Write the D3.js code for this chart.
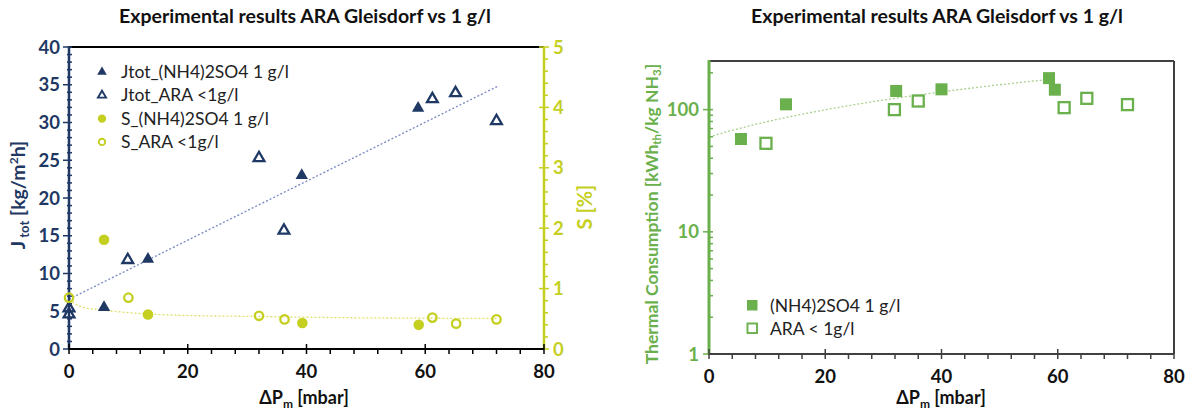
<!DOCTYPE html>
<html>
<head>
<meta charset="utf-8">
<script src="https://cdn.jsdelivr.net/npm/d3@7"></script>
<style>
  html, body { margin: 0; padding: 0; background: #fff; }
  svg { display: block; font-family: Lato, "Open Sans", sans-serif; }
</style>
</head>
<body>
<svg id="chart" width="1186" height="412"></svg>
<script>
// values
const xTicks = [0, 20, 40, 60, 80];
const jTicks = [0, 5, 10, 15, 20, 25, 30, 35, 40];
const sTicks = [0, 1, 2, 3, 4, 5];
const thermTicks = [1, 10, 100];

const jtotSulfX = [5.9, 13.3, 39.2, 58.8];
const jtotSulfY = [5.5, 11.9, 23.0, 31.9];
const jtotAraX = [0, 0, 9.9, 32.0, 36.2, 61.2, 65.1, 72.0];
const jtotAraY = [5.4, 4.6, 11.8, 25.3, 15.7, 33.1, 33.9, 30.2];

const sSulfX = [5.9, 13.3, 39.3, 58.9];
const sSulfY = [1.81, 0.57, 0.43, 0.40];
const sAraX = [0, 10.0, 32.0, 36.3, 61.2, 65.2, 72.0];
const sAraY = [0.85, 0.85, 0.55, 0.49, 0.52, 0.42, 0.49];

const jTrendX = [0, 72.2];
const jTrendY = [6.6, 34.8];
const sTrendX = [0, 2, 5, 8, 13, 20, 30, 45, 60, 72];
const sTrendY = [0.82, 0.70, 0.65, 0.62, 0.58, 0.555, 0.54, 0.52, 0.51, 0.505];

const thSulfX = [5.5, 13.25, 32.2, 40.0, 58.5, 59.5];
const thSulfY = [57.5, 110.5, 142, 146.6, 181, 145.6];
const thAraX = [9.8, 31.9, 36.0, 61.1, 65.0, 72.0];
const thAraY = [53, 100, 117.6, 103.8, 123.7, 109.9];
const thTrendX = [0, 58.5];
const thTrendY = [59.7, 176.7];

const navy = '#1f3864', lime = '#c4cf1f', green = '#6ab04c', gray = '#404040';

const svg = d3.select('#chart');
const zip = (xs, ys) => xs.map((x, i) => [x, ys[i]]);

// ---------- left chart ----------
const L = {left: 69, right: 544, top: 47, bottom: 349};
const x1 = d3.scaleLinear().domain([0, 80]).range([L.left, L.right]);
const yJ = d3.scaleLinear().domain([0, 40]).range([L.bottom, L.top]);
const yS = d3.scaleLinear().domain([0, 5]).range([L.bottom, L.top]);

svg.append('text').attr('x', 305).attr('y', 23).attr('text-anchor', 'middle')
  .attr('font-weight', 'bold').attr('font-size', 19.5).attr('fill', '#111')
  .text('Experimental results ARA Gleisdorf vs 1 g/l');

// top border
svg.append('line').attr('x1', L.left).attr('x2', L.right).attr('y1', L.top).attr('y2', L.top)
  .attr('stroke', '#000').attr('stroke-width', 2);

// trend lines
svg.append('path').datum(zip(jTrendX, jTrendY))
  .attr('d', d3.line().x(d => x1(d[0])).y(d => yJ(d[1])))
  .attr('fill', 'none').attr('stroke', '#7787c4').attr('stroke-width', 1.3).attr('stroke-dasharray', '2,2');
svg.append('path').datum(zip(sTrendX, sTrendY))
  .attr('d', d3.line().curve(d3.curveMonotoneX).x(d => x1(d[0])).y(d => yS(d[1])))
  .attr('fill', 'none').attr('stroke', '#dfe06a').attr('stroke-width', 1.3).attr('stroke-dasharray', '2,2');

// axes
function minorTicks(g, scale, ticks, x0, x1_, y0, y1_, color, vertical) {
  g.selectAll(null).data(ticks).enter().append('line')
    .attr('x1', d => vertical ? x0 : scale(d)).attr('x2', d => vertical ? x1_ : scale(d))
    .attr('y1', d => vertical ? scale(d) : y0).attr('y2', d => vertical ? scale(d) : y1_)
    .attr('stroke', color).attr('stroke-width', 1.5);
}

const gL = svg.append('g');
// left J axis
gL.append('line').attr('x1', L.left).attr('x2', L.left).attr('y1', L.top - 1).attr('y2', L.bottom)
  .attr('stroke', navy).attr('stroke-width', 2.5);
minorTicks(gL, yJ, d3.range(0, 41, 1).filter(v => v % 5), L.left - 2, L.left + 3, 0, 0, navy, true);
minorTicks(gL, yJ, jTicks, L.left - 6, L.left + 3, 0, 0, navy, true);
gL.selectAll('.jl').data(jTicks).enter().append('text')
  .attr('x', L.left - 9).attr('y', d => yJ(d) + 6.5).attr('text-anchor', 'end')
  .attr('font-weight', 'bold').attr('font-size', 18.5).attr('fill', navy).text(d => d);

// right S axis
gL.append('line').attr('x1', L.right).attr('x2', L.right).attr('y1', L.top).attr('y2', L.bottom)
  .attr('stroke', lime).attr('stroke-width', 2.5);
minorTicks(gL, yS, d3.range(0, 5.01, 0.2).filter((v, i) => i % 5), L.right - 1, L.right + 4, 0, 0, lime, true);
minorTicks(gL, yS, sTicks, L.right - 5, L.right + 5, 0, 0, lime, true);
gL.selectAll('.sl').data(sTicks).enter().append('text')
  .attr('x', L.right + 9).attr('y', d => yS(d) + 6.5)
  .attr('font-weight', 'bold').attr('font-size', 18.5).attr('fill', lime).text(d => d);

// bottom x axis
gL.append('line').attr('x1', L.left).attr('x2', L.right).attr('y1', L.bottom).attr('y2', L.bottom)
  .attr('stroke', '#000').attr('stroke-width', 2);
minorTicks(gL, x1, d3.range(0, 81, 4).filter(v => v % 20), 0, 0, L.bottom, L.bottom + 5, '#000', false);
minorTicks(gL, x1, xTicks, 0, 0, L.bottom - 5, L.bottom + 5, '#000', false);
gL.selectAll('.xl').data(xTicks).enter().append('text')
  .attr('x', d => x1(d)).attr('y', L.bottom + 29).attr('text-anchor', 'middle')
  .attr('font-weight', 'bold').attr('font-size', 18.5).attr('fill', '#111').text(d => d);
const xt1 = svg.append('text').attr('x', 304).attr('y', 404).attr('text-anchor', 'middle')
  .attr('font-weight', 'bold').attr('font-size', 18).attr('fill', '#111');
xt1.append('tspan').text('ΔP');
xt1.append('tspan').attr('font-size', 12).attr('dy', 4).text('m');
xt1.append('tspan').attr('dy', -4).text(' [mbar]');

// axis titles
const yt1 = svg.append('text').attr('transform', 'translate(25,195) rotate(-90)').attr('text-anchor', 'middle')
  .attr('font-weight', 'bold').attr('font-size', 19.5).attr('fill', navy);
yt1.append('tspan').text('J');
yt1.append('tspan').attr('font-size', 13).attr('dy', 4).text(' tot');
yt1.append('tspan').attr('dy', -4).text(' [kg/m');
yt1.append('tspan').attr('font-size', 12).attr('dy', -7).text('2');
yt1.append('tspan').attr('dy', 7).text('h]');
svg.append('text').attr('transform', 'translate(592,207) rotate(-90)').attr('text-anchor', 'middle')
  .attr('font-weight', 'bold').attr('font-size', 20).attr('fill', lime).text('S [%]');

// marks
const tri = d3.symbol(d3.symbolTriangle, 66)();
const triOpen = d3.symbol(d3.symbolTriangle, 50)();
svg.append('g').selectAll('path').data(zip(jtotSulfX, jtotSulfY)).enter().append('path')
  .attr('d', tri).attr('transform', d => `translate(${x1(d[0])},${yJ(d[1])})`).attr('fill', navy);
svg.append('g').selectAll('path').data(zip(jtotAraX, jtotAraY)).enter().append('path')
  .attr('d', triOpen).attr('transform', d => `translate(${x1(d[0])},${yJ(d[1])})`)
  .attr('fill', 'none').attr('stroke', navy).attr('stroke-width', 2.3);
svg.append('g').selectAll('circle').data(zip(sSulfX, sSulfY)).enter().append('circle')
  .attr('cx', d => x1(d[0])).attr('cy', d => yS(d[1])).attr('r', 5.3).attr('fill', lime);
svg.append('g').selectAll('circle').data(zip(sAraX, sAraY)).enter().append('circle')
  .attr('cx', d => x1(d[0])).attr('cy', d => yS(d[1])).attr('r', 4.2).attr('fill', 'none')
  .attr('stroke', lime).attr('stroke-width', 2.3);

// legend left
const legL = svg.append('g').attr('font-size', 17.5).attr('fill', '#222');
const legItems = ['Jtot_(NH4)2SO4 1 g/l', 'Jtot_ARA <1g/l', 'S_(NH4)2SO4 1 g/l', 'S_ARA <1g/l'];
legItems.forEach((t, i) => {
  const y = 72 + i * 23.3;
  if (i === 0) legL.append('path').attr('d', d3.symbol(d3.symbolTriangle, 40)()).attr('transform', `translate(102,${y})`).attr('fill', navy);
  if (i === 1) legL.append('path').attr('d', d3.symbol(d3.symbolTriangle, 28)()).attr('transform', `translate(102,${y})`).attr('fill', 'none').attr('stroke', navy).attr('stroke-width', 1.9);
  if (i === 2) legL.append('circle').attr('cx', 102).attr('cy', y).attr('r', 4.2).attr('fill', lime);
  if (i === 3) legL.append('circle').attr('cx', 102).attr('cy', y).attr('r', 3.2).attr('fill', 'none').attr('stroke', lime).attr('stroke-width', 1.9);
  legL.append('text').attr('x', 121).attr('y', y + 6).text(t);
});

// ---------- right chart ----------
const R = {left: 709, right: 1174, top: 61, bottom: 354};
const x2 = d3.scaleLinear().domain([0, 80]).range([R.left, R.right]);
const yT = d3.scaleLog().domain([1, 250]).range([R.bottom, R.top]);

svg.append('text').attr('x', 937).attr('y', 23).attr('text-anchor', 'middle')
  .attr('font-weight', 'bold').attr('font-size', 19.5).attr('fill', '#111')
  .text('Experimental results ARA Gleisdorf vs 1 g/l');

const gR = svg.append('g');
gR.append('line').attr('x1', R.left).attr('x2', R.right).attr('y1', R.top).attr('y2', R.top)
  .attr('stroke', gray).attr('stroke-width', 2);
gR.append('line').attr('x1', R.right).attr('x2', R.right).attr('y1', R.top).attr('y2', R.bottom)
  .attr('stroke', gray).attr('stroke-width', 2);

// trend
const trendScale = d3.scaleLinear().domain(thTrendX).range(thTrendY);
gR.append('path').datum(d3.range(thTrendX[0], thTrendX[1] + 0.01, 0.5))
  .attr('d', d3.line().x(d => x2(d)).y(d => yT(trendScale(d))))
  .attr('fill', 'none').attr('stroke', '#a8d08d').attr('stroke-width', 1.3).attr('stroke-dasharray', '2,2');

// y log axis
gR.append('line').attr('x1', R.left).attr('x2', R.left).attr('y1', R.top - 1).attr('y2', R.bottom)
  .attr('stroke', green).attr('stroke-width', 3);
const logMinor = yT.ticks().filter(v => thermTicks.indexOf(v) < 0 && v <= 250);
minorTicks(gR, yT, logMinor, R.left, R.left + 4, 0, 0, green, true);
minorTicks(gR, yT, thermTicks, R.left - 6, R.left + 4, 0, 0, green, true);
gR.selectAll('.tl').data(thermTicks).enter().append('text')
  .attr('x', R.left - 10).attr('y', d => yT(d) + 6.5).attr('text-anchor', 'end')
  .attr('font-weight', 'bold').attr('font-size', 18.5).attr('fill', green).text(d => d);

// x axis
gR.append('line').attr('x1', R.left).attr('x2', R.right).attr('y1', R.bottom).attr('y2', R.bottom)
  .attr('stroke', gray).attr('stroke-width', 2);
minorTicks(gR, x2, d3.range(0, 81, 4).filter(v => v % 20), 0, 0, R.bottom, R.bottom + 5, gray, false);
minorTicks(gR, x2, xTicks, 0, 0, R.bottom - 5, R.bottom + 5, gray, false);
gR.selectAll('.xl2').data(xTicks).enter().append('text')
  .attr('x', d => x2(d)).attr('y', R.bottom + 29).attr('text-anchor', 'middle')
  .attr('font-weight', 'bold').attr('font-size', 18.5).attr('fill', '#111').text(d => d);
const xt2 = svg.append('text').attr('x', 941).attr('y', 404).attr('text-anchor', 'middle')
  .attr('font-weight', 'bold').attr('font-size', 18).attr('fill', '#111');
xt2.append('tspan').text('ΔP');
xt2.append('tspan').attr('font-size', 12).attr('dy', 4).text('m');
xt2.append('tspan').attr('dy', -4).text(' [mbar]');

const yt2 = svg.append('text').attr('transform', 'translate(658,214) rotate(-90)').attr('text-anchor', 'middle')
  .attr('font-weight', 'bold').attr('font-size', 17.5).attr('fill', green);
yt2.append('tspan').text('Thermal Consumption [kWh');
yt2.append('tspan').attr('font-size', 11.5).attr('dy', 3).text('th');
yt2.append('tspan').attr('dy', -3).text('/kg NH');
yt2.append('tspan').attr('font-size', 11.5).attr('dy', 3).text('3');
yt2.append('tspan').attr('dy', -3).text(']');

// marks
gR.append('g').selectAll('rect').data(zip(thSulfX, thSulfY)).enter().append('rect')
  .attr('x', d => x2(d[0]) - 6).attr('y', d => yT(d[1]) - 6).attr('width', 12).attr('height', 12)
  .attr('fill', green);
gR.append('g').selectAll('rect').data(zip(thAraX, thAraY)).enter().append('rect')
  .attr('x', d => x2(d[0]) - 5.5).attr('y', d => yT(d[1]) - 5.5).attr('width', 11).attr('height', 11)
  .attr('fill', 'none').attr('stroke', green).attr('stroke-width', 2.3);

// legend right
const legR = svg.append('g').attr('font-size', 17.5).attr('fill', '#222');
legR.append('rect').attr('x', 747).attr('y', 300).attr('width', 10.5).attr('height', 10.5).attr('fill', green);
legR.append('text').attr('x', 770).attr('y', 311.5).text('(NH4)2SO4 1 g/l');
legR.append('rect').attr('x', 747.5).attr('y', 323.5).attr('width', 9.5).attr('height', 9.5)
  .attr('fill', 'none').attr('stroke', green).attr('stroke-width', 1.9);
legR.append('text').attr('x', 770).attr('y', 335).text('ARA < 1g/l');
</script>
</body>
</html>
